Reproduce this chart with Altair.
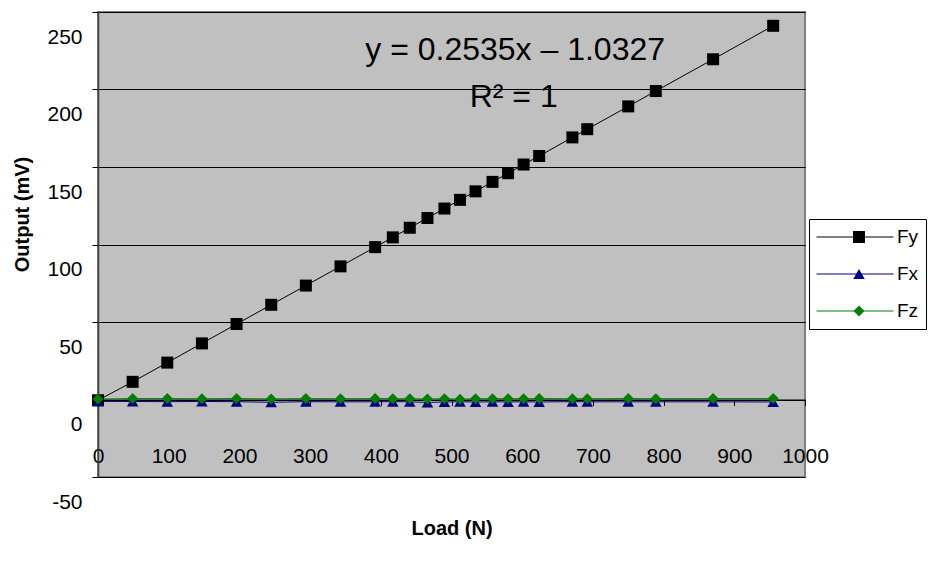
import altair as alt
import pandas as pd

# ---- data ----
series_names = ["Fy", "Fx", "Fz"]
series_colors = ["#000000", "#000080", "#008000"]
series_shapes = ["square", "triangle-up", "diamond"]
series_sizes = [144, 121, 196]

load = [0, 49, 98, 147, 196, 245, 294, 343, 392, 417, 441, 466, 490, 512,
        534, 558, 580, 602, 624, 671, 692, 750, 789, 870, 955]
fy = [-0.5, 11.4, 23.8, 36.2, 48.7, 61.1, 73.5, 85.9, 98.3, 104.6, 110.8,
      117.1, 123.2, 128.8, 134.3, 140.4, 146.0, 151.6, 157.1, 169.1, 174.4,
      189.1, 199.0, 219.5, 241.1]
fx = [-1.2, -1.3, -1.4, -1.3, -1.4, -1.8, -1.4, -1.5, -1.5, -1.4, -1.5, -1.9,
      -1.6, -1.5, -1.6, -1.5, -1.6, -1.5, -1.6, -1.4, -1.5, -1.5, -1.5, -1.5, -1.6]
fz = [0.3, 0.6, 0.6, 0.5, 0.6, 0.4, 0.6, 0.5, 0.6, 0.5, 0.5, 0.3, 0.5, 0.2,
      0.5, 0.5, 0.5, 0.5, 0.6, 0.5, 0.5, 0.6, 0.5, 0.6, 0.6]

x_ticks = [0, 100, 200, 300, 400, 500, 600, 700, 800, 900, 1000]
y_ticks = [-50, 0, 50, 100, 150, 200, 250]

ann_text = ["y = 0.2535x \u2013 1.0327", "R\u00b2 = 1"]
ann_load = [590, 588]
ann_value = [225.5, 195.2]

# ---- tables ----
rows = []
for name, vals in zip(series_names, [fy, fx, fz]):
    for l, v in zip(load, vals):
        rows.append({"load": l, "value": v, "series": name, "series_pt": name})
df = pd.DataFrame(rows)
ann = pd.DataFrame({"load": ann_load, "value": ann_value, "text": ann_text})

FONT = "Liberation Sans"
W, H = 707, 465
zero_from_bottom = H * (0 - (-50)) / (250 - (-50))

x_enc = alt.X(
    "load:Q",
    scale=alt.Scale(domain=[0, 1000], nice=False, zero=False),
    axis=alt.Axis(
        values=x_ticks, title="Load (N)", offset=-zero_from_bottom,
        grid=False, domainColor="#000000", domainWidth=1,
        tickColor="#000000", tickSize=6, labelPadding=40,
        labelExpr="datum.value + ''",
        labelFontSize=21, labelFont=FONT, labelColor="#000000",
        labelFlush=False, labelOverlap=False, labelBound=False,
        titleFont=FONT, titleFontSize=20, titleFontWeight="bold",
        titleColor="#000000", titlePadding=52,
    ),
)
y_enc = alt.Y(
    "value:Q",
    scale=alt.Scale(domain=[-50, 250], nice=False, zero=False),
    axis=alt.Axis(
        values=y_ticks, title="Output (mV)", grid=True,
        gridColor="#000000", gridWidth=1, gridOpacity=1,
        domainColor="#404040", domainWidth=1.5,
        tickColor="#000000", tickSize=6, labelPadding=10, labelOffset=25,
        labelExpr="datum.value + ''",
        labelFontSize=21, labelFont=FONT, labelColor="#000000",
        labelOverlap=False, labelBound=False, labelFlush=False,
        titleFont=FONT, titleFontSize=20, titleFontWeight="bold",
        titleColor="#000000", titleX=-76, titleY=202,
        titleAlign="center", titleBaseline="middle", titleAngle=270,
    ),
)

# legend of the lines: white box with border and the labels, drawn first
line_legend = alt.Legend(
    orient="none", legendX=711, legendY=207, title=None,
    symbolType="stroke", symbolSize=77 * 77, symbolStrokeWidth=1,
    clipHeight=22, rowPadding=15, padding=7,
    fillColor="white", strokeColor="black",
    labelFont=FONT, labelFontSize=19, labelColor="#000000",
    labelOffset=3, labelExpr="datum.label + '      '",
)

# legend of the markers: transparent, drawn on top of the lines
pt_legend = alt.Legend(
    orient="none", legendX=744.5, legendY=207, title=None,
    symbolSize=170, symbolStrokeWidth=0,
    clipHeight=22, rowPadding=15, padding=7,
    labelExpr="''", labelFontSize=19, zindex=1,
)

lines = alt.Chart(df).mark_line(strokeWidth=1, clip=True).encode(
    x=x_enc, y=y_enc,
    stroke=alt.Stroke(
        "series:N",
        scale=alt.Scale(domain=series_names, range=series_colors),
        legend=line_legend,
    ),
    detail="series:N",
    order="load:Q",
)

points = alt.Chart(df).mark_point(filled=True, opacity=1, strokeWidth=0).encode(
    x=x_enc, y=y_enc,
    color=alt.Color(
        "series_pt:N", sort=None,
        scale=alt.Scale(range=series_colors),
        legend=pt_legend,
    ),
    shape=alt.Shape(
        "series_pt:N", sort=None,
        scale=alt.Scale(range=series_shapes),
        legend=pt_legend,
    ),
    size=alt.Size(
        "series_pt:N", sort=None,
        scale=alt.Scale(range=series_sizes), legend=None,
    ),
)

texts = alt.Chart(ann).mark_text(
    font=FONT, fontSize=32, color="#000000", align="center", baseline="middle"
).encode(x=x_enc, y=y_enc, text="text:N")

chart = alt.layer(lines, points, texts).properties(
    width=W, height=H,
    autosize=alt.AutoSizeParams(type="none"),
    padding={"left": 98, "top": 12, "right": 127, "bottom": 88},
    background="white",
).configure_view(
    fill="#C0C0C0", stroke="#808080", strokeWidth=2
)

chart.save("out.html", embed_options={"renderer": "svg", "actions": False})
